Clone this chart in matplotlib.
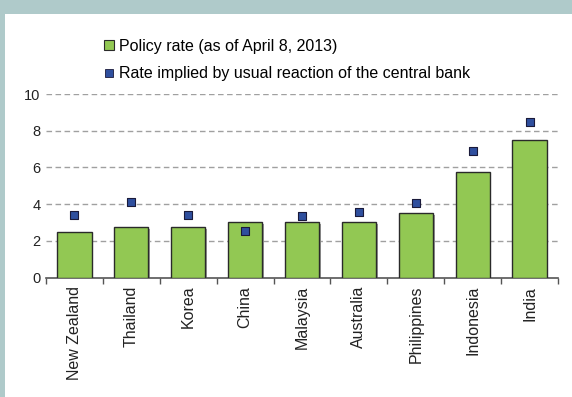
import matplotlib
matplotlib.use("Agg")
import matplotlib.pyplot as plt
import numpy as np
from matplotlib.lines import Line2D
from matplotlib.patches import Rectangle

countries = ['New Zealand', 'Thailand', 'Korea', 'China', 'Malaysia',
             'Australia', 'Philippines', 'Indonesia', 'India']
policy_rate = [2.5, 2.75, 2.75, 3.0, 3.0, 3.0, 3.5, 5.75, 7.5]
implied_rate = [3.4, 4.1, 3.4, 2.55, 3.35, 3.55, 4.05, 6.9, 8.45]
y_ticks = [0, 2, 4, 6, 8, 10]

plt.rcParams['font.family'] = ['Liberation Sans', 'DejaVu Sans']

W, H = 572, 397
fig = plt.figure(figsize=(W / 100, H / 100), dpi=100)
fig.patch.set_facecolor('white')

# teal frame (top band and left strip)
frame_col = '#afcaca'
fig.patches.append(Rectangle((0, 1 - 14 / H), 1, 14 / H, transform=fig.transFigure,
                             facecolor=frame_col, edgecolor='none', zorder=0))
fig.patches.append(Rectangle((0, 0), 5 / W, 1, transform=fig.transFigure,
                             facecolor=frame_col, edgecolor='none', zorder=0))

ax = fig.add_axes([46 / W, 1 - 277.5 / H, (558 - 46) / W, (277.5 - 94) / H])
x = np.arange(len(countries))

# grid
for yv in y_ticks[1:]:
    ax.axhline(yv, color='#a0a0a0', lw=1.0, ls=(0, (4, 2.5)), zorder=1)

# bar shadows
ax.bar(x + 0.03, policy_rate, width=0.6, bottom=-0.08, color='#9a9a9a',
       edgecolor='none', zorder=2)
ax.bar(x, policy_rate, width=0.6, color='#92c853', edgecolor='#2a2a2a',
       linewidth=1.0, zorder=3)
ax.scatter(x, implied_rate, marker='s', s=30, color='#2f4f9e',
           edgecolors='#1a1a3a', linewidths=0.8, zorder=4)

ax.set_xlim(-0.5, len(countries) - 0.5)
ax.set_ylim(0, 10)
ax.set_yticks(y_ticks)
ax.tick_params(axis='y', length=0, labelsize=10.5, pad=4, colors='#222222')
ax.set_xticks(x)
ax.set_xticklabels(countries, rotation=90, fontsize=11.5, color='#222222')
ax.tick_params(axis='x', which='major', length=0, pad=6)
ax.set_xticks(np.arange(-0.5, len(countries)), minor=True)
ax.tick_params(axis='x', which='minor', length=4, width=1.0, color='#555555', direction='out')

for s in ['top', 'right', 'left']:
    ax.spines[s].set_visible(False)
ax.spines['bottom'].set_color('#555555')
ax.spines['bottom'].set_linewidth(1.2)
ax.patch.set_alpha(0)

handles = [
    Line2D([], [], marker='s', ls='none', markersize=6.5, markerfacecolor='#92c853',
           markeredgecolor='#2a2a2a', markeredgewidth=0.8),
    Line2D([], [], marker='s', ls='none', markersize=5.5, markerfacecolor='#2f4f9e',
           markeredgecolor='#1a1a3a', markeredgewidth=0.6),
]
labels = ['Policy rate (as of April 8, 2013)',
          'Rate implied by usual reaction of the central bank']
fig.legend(handles, labels, loc='upper left', bbox_to_anchor=(103 / W, 1 - 39 / H),
           frameon=False, fontsize=11.5, handlelength=0.8, handletextpad=0.2,
           labelspacing=0.78, borderpad=0, borderaxespad=0)

fig.savefig('out.png', dpi=100)
